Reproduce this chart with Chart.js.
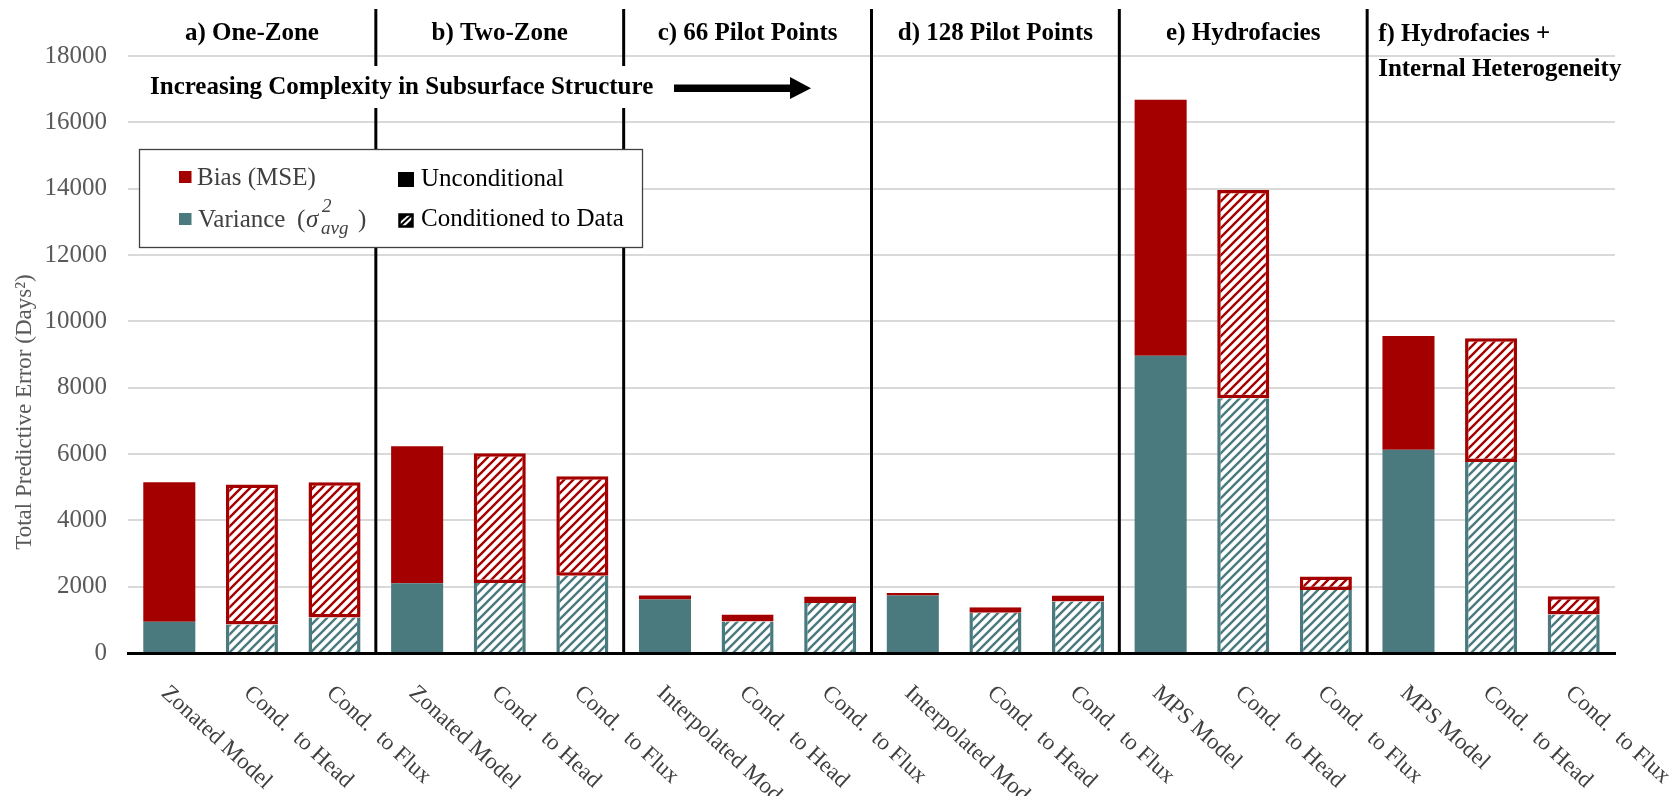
<!DOCTYPE html>
<html>
<head>
<meta charset="utf-8">
<script src="https://cdn.jsdelivr.net/npm/chart.js@4.4.1/dist/chart.umd.min.js"></script>
<style>
  html, body { margin: 0; padding: 0; background: #fff; }
  #wrap { width: 1680px; height: 796px; position: relative; }
</style>
</head>
<body>
<div id="wrap"><canvas id="errChart"></canvas></div>
<script>
const categories = [
  'Zonated Model', 'Cond.  to Head', 'Cond.  to Flux',
  'Zonated Model', 'Cond.  to Head', 'Cond.  to Flux',
  'Interpolated Model', 'Cond.  to Head', 'Cond.  to Flux',
  'Interpolated Model', 'Cond.  to Head', 'Cond.  to Flux',
  'MPS Model', 'Cond.  to Head', 'Cond.  to Flux',
  'MPS Model', 'Cond.  to Head', 'Cond.  to Flux'
];
const variance = [940, 860, 1070, 2100, 2110, 2330, 1610, 950, 1510, 1730, 1210, 1550, 8960, 7680, 1900, 6130, 5760, 1160];
const bias = [4210, 4220, 4080, 4130, 3910, 3000, 120, 210, 190, 80, 170, 180, 7720, 6280, 410, 3430, 3730, 550];
const groupTitles = [
  ['a) One-Zone'], ['b) Two-Zone'], ['c) 66 Pilot Points'],
  ['d) 128 Pilot Points'], ['e) Hydrofacies'], ['f) Hydrofacies +', 'Internal Heterogeneity']
];
const yTicks = [0, 2000, 4000, 6000, 8000, 10000, 12000, 14000, 16000, 18000];

const RED = '#a50000';
const TEAL = '#4a7a7e';
const SERIF = "'Liberation Serif', 'Times New Roman', serif";

function hatch(color) {
  const s = 9;
  const c = document.createElement('canvas');
  c.width = c.height = s;
  const g = c.getContext('2d');
  g.fillStyle = '#fff';
  g.fillRect(0, 0, s, s);
  g.strokeStyle = color;
  g.lineWidth = 2.4;
  g.beginPath();
  g.moveTo(0, s); g.lineTo(s, 0);
  g.moveTo(-s / 2, s / 2); g.lineTo(s / 2, -s / 2);
  g.moveTo(s / 2, s * 1.5); g.lineTo(s * 1.5, s / 2);
  g.stroke();
  return g.createPattern(c, 'repeat');
}
const redHatch = hatch(RED);
const tealHatch = hatch(TEAL);

const isCond = i => categories[i].startsWith('Cond.');

// separators, group headings, arrow note, legend box, axis title and slanted category names
const overlay = {
  id: 'overlay',
  afterDraw(chart) {
    const ctx = chart.ctx;
    const x = chart.scales.x;
    const area = chart.chartArea;
    const axisY = area.bottom;
    ctx.save();

    // group separators
    const seps = [];
    for (let g = 1; g < groupTitles.length; g++) {
      seps.push((x.getPixelForValue(g * 3 - 1) + x.getPixelForValue(g * 3)) / 2);
    }
    ctx.strokeStyle = '#000';
    ctx.lineWidth = 3;
    seps.forEach(sx => {
      ctx.beginPath();
      ctx.moveTo(sx, 9);
      ctx.lineTo(sx, axisY);
      ctx.stroke();
    });

    // group headings
    ctx.fillStyle = '#000';
    ctx.font = 'bold 25px ' + SERIF;
    ctx.textBaseline = 'middle';
    const edges = [area.left].concat(seps, [area.right]);
    groupTitles.forEach((lines, g) => {
      if (lines.length === 1) {
        ctx.textAlign = 'center';
        ctx.fillText(lines[0], (edges[g] + edges[g + 1]) / 2, 34);
      } else {
        ctx.textAlign = 'left';
        lines.forEach((t, k) => ctx.fillText(t, edges[g] + 11, 35 + k * 35));
      }
    });

    // complexity note with arrow
    ctx.fillStyle = '#fff';
    ctx.fillRect(140, 66, 526, 42);
    ctx.fillStyle = '#000';
    ctx.textAlign = 'left';
    ctx.fillText('Increasing Complexity in Subsurface Structure', 150, 88);
    ctx.fillRect(674, 84.5, 118, 7.5);
    ctx.beginPath();
    ctx.moveTo(790, 77);
    ctx.lineTo(811, 88.3);
    ctx.lineTo(790, 99);
    ctx.closePath();
    ctx.fill();

    // legend box
    ctx.fillStyle = '#fff';
    ctx.fillRect(139, 149, 504, 99);
    ctx.strokeStyle = '#404040';
    ctx.lineWidth = 1.3;
    ctx.strokeRect(139.5, 149.5, 503, 98);

    ctx.fillStyle = RED;
    ctx.fillRect(179, 171, 12.5, 12);
    ctx.fillStyle = TEAL;
    ctx.fillRect(179, 213, 12.5, 12);
    ctx.fillStyle = '#000';
    ctx.fillRect(398, 172, 16, 15);
    ctx.strokeStyle = '#000';
    ctx.lineWidth = 2.5;
    ctx.strokeRect(399.5, 214.5, 13, 12);
    ctx.beginPath();
    ctx.moveTo(400, 226); ctx.lineTo(412, 215);
    ctx.lineWidth = 2;
    ctx.stroke();
    ctx.beginPath();
    ctx.moveTo(400, 215); ctx.lineTo(408, 215); ctx.lineTo(400, 222); ctx.closePath();
    ctx.fill();
    ctx.beginPath();
    ctx.moveTo(413, 226); ctx.lineTo(405, 226); ctx.lineTo(413, 218); ctx.closePath();
    ctx.fill();

    ctx.textBaseline = 'alphabetic';
    ctx.textAlign = 'left';
    ctx.font = '25px ' + SERIF;
    ctx.fillStyle = '#404040';
    ctx.fillText('Bias (MSE)', 197, 185);
    ctx.fillText('Variance', 198, 227);
    ctx.fillText('(', 297, 227);
    ctx.fillText(')', 358, 227);
    ctx.font = 'italic 25px ' + SERIF;
    ctx.fillText('\u03c3', 306, 227);
    ctx.font = 'italic 19px ' + SERIF;
    ctx.fillText('2', 322, 212);
    ctx.fillText('avg', 321, 234);
    ctx.font = '25px ' + SERIF;
    ctx.fillStyle = '#000';
    ctx.fillText('Unconditional', 421, 186);
    ctx.fillText('Conditioned to Data', 421, 226);

    // y axis title
    ctx.save();
    ctx.translate(25, 412);
    ctx.rotate(-Math.PI / 2);
    ctx.textAlign = 'center';
    ctx.textBaseline = 'middle';
    ctx.fillStyle = '#595959';
    ctx.font = '23px ' + SERIF;
    ctx.fillText('Total Predictive Error (Days\u00b2)', 0, 0);
    ctx.restore();

    // slanted category names
    ctx.fillStyle = '#404040';
    ctx.font = '23px ' + SERIF;
    ctx.textBaseline = 'middle';
    categories.forEach((name, i) => {
      const cx = x.getPixelForValue(i);
      ctx.save();
      ctx.translate(cx - 5, axisY + 37);
      ctx.rotate(42.5 * Math.PI / 180);
      ctx.fillText(name, 0, 0);
      ctx.restore();
    });
    ctx.restore();
  }
};

new Chart(document.getElementById('errChart'), {
  type: 'bar',
  data: {
    labels: categories,
    datasets: [
      {
        label: 'Variance',
        data: variance,
        stack: 's',
        backgroundColor: c => isCond(c.dataIndex) ? tealHatch : TEAL,
        borderColor: TEAL,
        borderWidth: c => isCond(c.dataIndex) ? { left: 3.5, right: 3.5, top: 0, bottom: 0 } : 0,
        borderSkipped: false
      },
      {
        label: 'Bias (MSE)',
        data: bias,
        stack: 's',
        backgroundColor: c => isCond(c.dataIndex) ? redHatch : RED,
        borderColor: RED,
        borderWidth: c => isCond(c.dataIndex) ? 3.5 : 0,
        borderSkipped: false
      }
    ]
  },
  options: {
    responsive: true,
    maintainAspectRatio: false,
    animation: false,
    layout: { padding: { top: 56, right: 65, bottom: 135, left: 0 } },
    plugins: { legend: { display: false }, tooltip: { enabled: false } },
    datasets: { bar: { categoryPercentage: 1, barPercentage: 0.63 } },
    scales: {
      x: {
        stacked: true,
        ticks: { display: false },
        grid: { display: false },
        border: { color: '#000', width: 3 }
      },
      y: {
        stacked: true,
        min: 0,
        max: 18000,
        afterBuildTicks: s => { s.ticks = yTicks.map(v => ({ value: v })); },
        afterFit: s => { s.width = 128; },
        ticks: {
          color: '#595959',
          font: { family: SERIF, size: 25 },
          padding: 21,
          callback: v => String(v)
        },
        grid: { color: '#d9d9d9', lineWidth: 2, drawTicks: false },
        border: { display: false }
      }
    }
  },
  plugins: [overlay]
});
</script>
</body>
</html>
